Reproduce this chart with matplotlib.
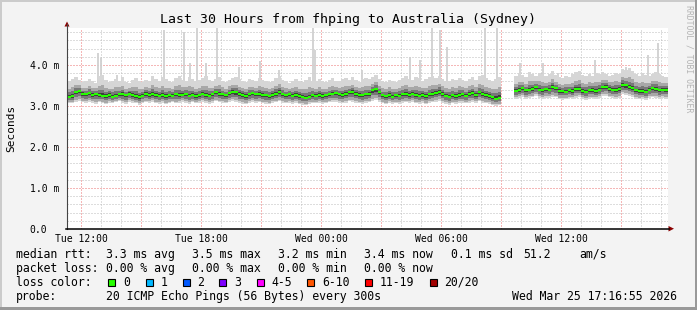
import matplotlib
matplotlib.use("Agg")
import matplotlib.pyplot as plt
import matplotlib.dates as mdates
import matplotlib.ticker as mticker
from matplotlib.patches import Polygon, Rectangle
from matplotlib.lines import Line2D
import numpy as np
import pandas as pd

nan = float("nan")

# rrd steps of 10 min, Tue 11:20 .. Wed 17:10
times = pd.date_range("2026-03-24 11:20", periods=180, freq="10min")

median_ms = [
    3.22, 3.24, 3.33, 3.36, 3.30, 3.28, 3.31, 3.27, 3.29, 3.26,
    3.25, 3.24, 3.27, 3.23, 3.25, 3.28, 3.29, 3.26, 3.30, 3.27,
    3.24, 3.22, 3.25, 3.30, 3.27, 3.29, 3.26, 3.25, 3.27, 3.24,
    3.26, 3.25, 3.28, 3.26, 3.27, 3.29, 3.25, 3.27, 3.24, 3.26,
    3.30, 3.27, 3.25, 3.28, 3.33, 3.30, 3.28, 3.26, 3.31, 3.34,
    3.33, 3.29, 3.27, 3.25, 3.28, 3.31, 3.28, 3.30, 3.27, 3.26,
    3.24, 3.27, 3.30, 3.34, 3.29, 3.26, 3.28, 3.25, 3.27, 3.24,
    3.23, 3.20, 3.22, 3.26, 3.25, 3.27, 3.24, 3.26, 3.28, 3.30,
    3.31, 3.28, 3.27, 3.29, 3.33, 3.34, 3.30, 3.27, 3.26, 3.28,
    3.30, 3.38, 3.41, 3.33, 3.26, 3.24, 3.27, 3.23, 3.26, 3.25,
    3.28, 3.29, 3.27, 3.30, 3.26, 3.25, 3.27, 3.24, 3.28, 3.30,
    3.32, 3.35, 3.29, 3.25, 3.23, 3.26, 3.24, 3.27, 3.28, 3.25,
    3.29, 3.31, 3.27, 3.33, 3.29, 3.26, 3.24, 3.21, 3.18, 3.20,
    nan, nan, nan, nan,
    3.37, 3.39, 3.43, 3.38, 3.40, 3.42, 3.46, 3.40, 3.38, 3.41,
    3.40, 3.46, 3.43, 3.37, 3.36, 3.35, 3.38, 3.36, 3.41, 3.42,
    3.37, 3.35, 3.38, 3.39, 3.37, 3.40, 3.45, 3.47, 3.42, 3.40,
    3.39, 3.41, 3.52, 3.50, 3.47, 3.44, 3.38, 3.36, 3.37, 3.35,
    3.40, 3.43, 3.41, 3.38, 3.40, 3.39,
]

smoke_lo = [
    3.08, 3.06, 3.10, 3.12, 3.09, 3.07, 3.10, 3.08, 3.05, 3.09,
    3.07, 3.04, 3.08, 3.06, 3.09, 3.11, 3.07, 3.05, 3.10, 3.08,
    3.06, 3.03, 3.07, 3.09, 3.08, 3.10, 3.06, 3.05, 3.08, 3.04,
    3.07, 3.09, 3.06, 3.08, 3.10, 3.07, 3.05, 3.09, 3.06, 3.08,
    3.10, 3.08, 3.05, 3.07, 3.11, 3.09, 3.07, 3.06, 3.10, 3.12,
    3.09, 3.07, 3.05, 3.04, 3.08, 3.10, 3.07, 3.09, 3.06, 3.05,
    3.04, 3.07, 3.09, 3.11, 3.08, 3.06, 3.08, 3.05, 3.07, 3.04,
    3.03, 3.02, 3.05, 3.07, 3.06, 3.08, 3.05, 3.07, 3.09, 3.10,
    3.09, 3.07, 3.06, 3.08, 3.11, 3.10, 3.08, 3.06, 3.05, 3.07,
    3.09, 3.13, 3.14, 3.10, 3.06, 3.04, 3.07, 3.05, 3.06, 3.05,
    3.08, 3.09, 3.07, 3.10, 3.06, 3.05, 3.07, 3.04, 3.08, 3.09,
    3.10, 3.12, 3.08, 3.05, 3.03, 3.06, 3.05, 3.07, 3.08, 3.06,
    3.08, 3.10, 3.07, 3.11, 3.08, 3.06, 3.05, 3.02, 3.00, 3.02,
    nan, nan, nan, nan,
    3.18, 3.20, 3.22, 3.17, 3.19, 3.21, 3.24, 3.19, 3.17, 3.20,
    3.19, 3.23, 3.21, 3.16, 3.15, 3.16, 3.19, 3.17, 3.20, 3.22,
    3.17, 3.15, 3.18, 3.19, 3.17, 3.20, 3.24, 3.25, 3.21, 3.19,
    3.18, 3.20, 3.28, 3.27, 3.24, 3.22, 3.18, 3.16, 3.17, 3.15,
    3.19, 3.21, 3.20, 3.17, 3.19, 3.18,
]

smoke_hi = [
    3.62, 3.66, 3.70, 3.64, 3.58, 3.61, 3.66, 3.60, 3.57, 3.72,
    3.75, 3.63, 3.58, 3.60, 3.66, 3.62, 3.70, 3.59, 3.56, 3.63,
    3.67, 3.60, 3.58, 3.64, 3.61, 3.72, 3.66, 3.62, 3.70, 3.65,
    3.61, 3.59, 3.68, 3.74, 3.64, 3.62, 3.70, 3.66, 3.60, 3.63,
    3.67, 3.72, 3.64, 3.61, 3.66, 3.70, 3.62, 3.59, 3.64, 3.68,
    3.71, 3.65, 3.62, 3.58, 3.66, 3.63, 3.60, 3.67, 3.64, 3.61,
    3.58, 3.62, 3.68, 3.72, 3.63, 3.60, 3.57, 3.62, 3.66, 3.61,
    3.59, 3.64, 3.70, 3.62, 3.60, 3.65, 3.61, 3.58, 3.63, 3.67,
    3.62, 3.60, 3.66, 3.69, 3.64, 3.70, 3.63, 3.59, 3.65, 3.68,
    3.66, 3.71, 3.75, 3.65, 3.60, 3.58, 3.63, 3.61, 3.59, 3.64,
    3.67, 3.72, 3.66, 3.63, 3.70, 3.68, 3.62, 3.65, 3.71, 3.74,
    3.69, 3.73, 3.66, 3.62, 3.60, 3.65, 3.63, 3.68, 3.64, 3.61,
    3.66, 3.70, 3.64, 3.72, 3.75, 3.68, 3.63, 3.60, 3.66, 3.70,
    nan, nan, nan, nan,
    3.72, 3.80, 3.76, 3.70, 3.83, 3.78, 3.74, 3.81, 3.77, 3.72,
    3.79, 3.84, 3.76, 3.71, 3.68, 3.74, 3.70, 3.77, 3.82, 3.86,
    3.75, 3.72, 3.78, 3.74, 3.80, 3.77, 3.83, 3.79, 3.73, 3.76,
    3.81, 3.78, 3.90, 3.87, 3.92, 3.85, 3.78, 3.74, 3.80, 3.76,
    3.72, 3.79, 3.83, 3.77, 3.74, 3.71,
]

# single slow pings sticking out of the smoke
spike_times = pd.to_datetime([
    "2026-03-24 12:51", "2026-03-24 13:00", "2026-03-24 13:48", "2026-03-24 16:09",
    "2026-03-24 17:09", "2026-03-24 17:27", "2026-03-24 17:48", "2026-03-24 18:15",
    "2026-03-24 18:48", "2026-03-24 19:54", "2026-03-24 20:57", "2026-03-24 21:54",
    "2026-03-24 23:36", "2026-03-24 23:42", "2026-03-25 02:03", "2026-03-25 04:27",
    "2026-03-25 04:57", "2026-03-25 05:33", "2026-03-25 05:57", "2026-03-25 06:18",
    "2026-03-25 08:12", "2026-03-25 08:48", "2026-03-25 09:57", "2026-03-25 11:06",
    "2026-03-25 11:51", "2026-03-25 13:42", "2026-03-25 15:15", "2026-03-25 16:21",
    "2026-03-25 16:51",
])
spike_top = [
    4.29, 4.17, 3.76, 4.85, 4.80, 4.05, 4.92, 4.05, 4.92, 3.95, 4.10, 3.88,
    4.92, 4.37, 3.88, 4.20, 4.12, 4.92, 4.85, 4.44, 4.92, 4.92, 4.05, 4.05,
    3.80, 4.12, 3.95, 4.24, 4.54,
]

ytick_vals = [0, 1, 2, 3, 4]
ytick_labels = ["0.0", "1.0 m", "2.0 m", "3.0 m", "4.0 m"]

loss_labels = ["0", "1", "2", "3", "4-5", "6-10", "11-19", "20/20"]
loss_colors = ["#26ff00", "#00b8ff", "#0059ff", "#7e00ff", "#ff00ff", "#ff5500", "#ff0000", "#a10000"]

rtt_row = ["median rtt:", "3.3 ms avg", "3.5 ms max", "3.2 ms min", "3.4 ms now", "0.1 ms sd", "51.2", "am/s"]
loss_row = ["packet loss:", "0.00 % avg", "0.00 % max", "0.00 % min", "0.00 % now"]
probe_row = ["probe:", "20 ICMP Echo Pings (56 Bytes) every 300s", "Wed Mar 25 17:16:55 2026"]

W, H = 697, 310
MONO = "DejaVu Sans Mono"
plt.rcParams["font.family"] = MONO


def fx(x):
    return x / W


def fy(y):
    return 1 - y / H


fig = plt.figure(figsize=(W / 100, H / 100), dpi=100, facecolor="#f3f3f3")

# 3d-ish frame
fig.add_artist(Rectangle((0, fy(2)), 1, 2 / H, transform=fig.transFigure, color="#cbcbcb", lw=0))
fig.add_artist(Rectangle((0, 0), 2 / W, 1, transform=fig.transFigure, color="#cbcbcb", lw=0))
fig.add_artist(Rectangle((0, 0), 1, 3 / H, transform=fig.transFigure, color="#999999", lw=0))
fig.add_artist(Rectangle((fx(695), 0), 2 / W, 1, transform=fig.transFigure, color="#999999", lw=0))

ax = fig.add_axes([fx(67), fy(229), 601 / W, 201 / H])
ax.set_facecolor("white")

x = mdates.date2num(times)
step = 10 / 1440
med = np.array(median_ms)
lo = np.array(smoke_lo)
hi = np.array(smoke_hi)

# spikes behind the smoke
ax.vlines(mdates.date2num(spike_times), 3.5, spike_top, colors="#d0d0d0", lw=1.3, zorder=2)

# smoke: lighter the further from the median
layers = [(1.0, 1.0, "#d6d6d6"), (0.8, 0.5, "#a8a8a8"), (0.5, 0.27, "#787878"), (0.22, 0.11, "#3c3c3c")]
for fl, fh, c in layers:
    b = med - fl * (med - lo)
    t = med + fh * (hi - med)
    ax.bar(x, t - b, bottom=b, width=step, align="edge", color=c, lw=0, zorder=3)

ax.hlines(med, x, x + step, colors="#26ff00", lw=1.5, zorder=4)

ax.set_xlim(mdates.date2num(pd.Timestamp("2026-03-24 11:18")), mdates.date2num(pd.Timestamp("2026-03-25 17:21")))
ax.set_ylim(0, 4.9)

ax.xaxis.set_major_locator(mdates.HourLocator(byhour=range(0, 24, 3)))
ax.xaxis.set_minor_locator(mdates.HourLocator())


def xfmt(v, pos=None):
    d = mdates.num2date(v)
    return d.strftime("%a %H:%M") if d.hour % 6 == 0 else ""


ax.xaxis.set_major_formatter(mticker.FuncFormatter(xfmt))
ax.set_yticks(ytick_vals)
ax.set_yticklabels(ytick_labels)
ax.yaxis.set_minor_locator(mticker.MultipleLocator(0.2))

ax.tick_params(which="both", length=0, labelsize=7)
ax.tick_params(axis="x", pad=3.5)
ax.tick_params(axis="y", pad=27)
for lbl in ax.get_yticklabels():
    lbl.set_horizontalalignment("left")

ax.set_axisbelow(True)
ax.grid(which="minor", color="#bcbcbc", ls=(0, (1, 2)), lw=0.72)
ax.grid(which="major", color="#ec7070", ls=(0, (1, 2)), lw=0.72)
for s in ax.spines.values():
    s.set_visible(False)

# axes lines with arrows
fig.add_artist(Line2D([fx(67), fx(67)], [fy(229), fy(24)], color="#444444", lw=0.8))
fig.add_artist(Line2D([fx(66), fx(669)], [fy(228.7), fy(228.7)], color="black", lw=1.1))
fig.add_artist(Polygon([(fx(64.5), fy(26.5)), (fx(69.5), fy(26.5)), (fx(67), fy(21.5))],
                       closed=True, transform=fig.transFigure, color="#8b0000", lw=0))
fig.add_artist(Polygon([(fx(668.5), fy(226)), (fx(668.5), fy(231.5)), (fx(674), fy(228.7))],
                       closed=True, transform=fig.transFigure, color="#8b0000", lw=0))

fig.text(0.5, fy(19), "Last 30 Hours from fhping to Australia (Sydney)", ha="center", va="center", fontsize=9.5)
fig.text(fx(11), fy(128), "Seconds", rotation=90, ha="center", va="center", fontsize=8)
fig.text(fx(688.5), fy(5), "RRDTOOL / TOBI OETIKER", rotation=270, ha="center", va="top",
         fontsize=5.9, color="#b4b4b4")

# legend block
fs = 8.3
rtt_x = [15.5, 106.5, 192.5, 278.5, 364.5, 451, 523, 579]
for s, xp in zip(rtt_row, rtt_x):
    fig.text(fx(xp), fy(254.3), s, ha="left", va="center", fontsize=fs)
for s, xp in zip(loss_row, rtt_x):
    fig.text(fx(xp), fy(268.3), s, ha="left", va="center", fontsize=fs)

fig.text(fx(15.5), fy(282.3), "loss color:", ha="left", va="center", fontsize=fs)
box_x = [108.3, 145.7, 182.7, 219.3, 256.7, 307.3, 365, 430]
for lab, col, bx in zip(loss_labels, loss_colors, box_x):
    fig.add_artist(Rectangle((fx(bx), fy(286)), 7 / W, 7 / H, transform=fig.transFigure,
                             facecolor=col, edgecolor="black", lw=0.8))
    fig.text(fx(bx + 14.5), fy(282.3), lab, ha="left", va="center", fontsize=fs)

probe_x = [15.5, 106.5, 512.5]
for s, xp in zip(probe_row, probe_x):
    fig.text(fx(xp), fy(296.7), s, ha="left", va="center", fontsize=fs)

fig.savefig("out.png", dpi=100, facecolor=fig.get_facecolor())
